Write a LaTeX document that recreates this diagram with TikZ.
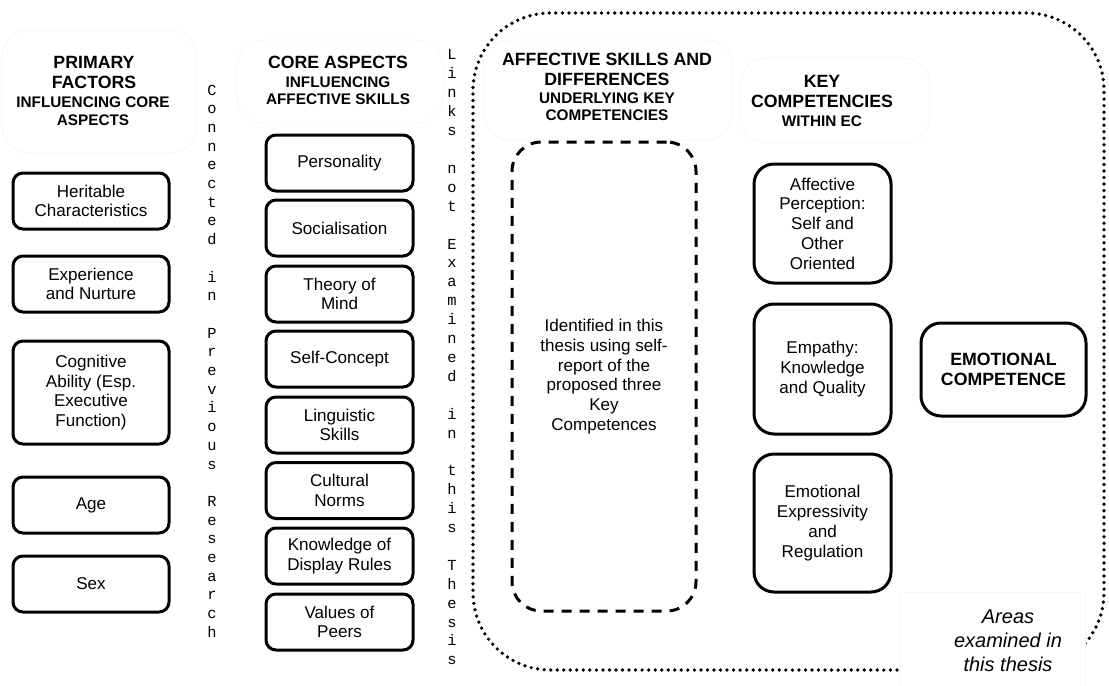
\documentclass[tikz,border=0pt]{standalone}
\usepackage{fontspec}
\setmainfont{Liberation Sans}
\newfontfamily\monofont{Liberation Mono}
\begin{document}
\begin{tikzpicture}[x=0.75pt,y=-0.75pt,
  box/.style={draw, line width=2.25pt, rounded corners=7.5pt, align=center,
    inner sep=2pt, font=\fontsize{12.8}{14.8}\selectfont},
  bigbox/.style={box, rounded corners=15pt},
  hbig/.style={font=\fontsize{13.3}{15}\selectfont\bfseries, anchor=base, inner sep=0pt},
  hsmall/.style={font=\fontsize{11.5}{13}\selectfont\bfseries, anchor=base, inner sep=0pt},
  vlet/.style={font=\monofont\fontsize{11.5}{12}\selectfont, anchor=base, inner sep=0pt},
  faint/.style={draw=black!3, line width=0.75pt, rounded corners=20pt},
  dotline/.style={line width=2.8pt, line cap=round, dash pattern=on 0pt off 4.9pt, rounded corners=58pt},
  dashbox/.style={box, dash pattern=on 7.5pt off 6pt, rounded corners=22pt}
]
\useasboundingbox (0,0) rectangle (1109,685);

% pale panels behind the column headings
\draw[faint] (2,30) rectangle (197,153);
\draw[faint] (237,40) rectangle (443,123);
\draw[faint] (483,40) rectangle (733,140);
\draw[faint] (740,58) rectangle (930,143);

% dotted outline of the areas examined
\draw[dotline] (473,400) -- (473,13) -- (1104,13) -- (1104,670) -- (473,670) -- cycle;

% caption panel in the lower right corner
\draw[draw=black!3, line width=0.75pt, fill=white] (900,592) rectangle (1085,690);
\node[font=\fontsize{15}{18}\selectfont\itshape, align=center, inner sep=0pt] (areas) at (1008,641)
  {Areas\\examined in\\this thesis};

% column headings
\node[hbig]   (h1a) at (94,69)    {PRIMARY};
\node[hbig]   (h1b) at (94,89)    {FACTORS};
\node[hsmall] (h1c) at (93,107.5) {INFLUENCING CORE};
\node[hsmall] (h1d) at (93,125.5) {ASPECTS};

\node[hbig]   (h2a) at (338,69)    {CORE ASPECTS};
\node[hsmall] (h2b) at (338,87.5)  {INFLUENCING};
\node[hsmall] (h2c) at (338,104.5) {AFFECTIVE SKILLS};

\node[hbig]   (h3a) at (607,65)    {AFFECTIVE SKILLS AND};
\node[hbig]   (h3b) at (607,85)    {DIFFERENCES};
\node[hsmall] (h3c) at (607,103.5) {UNDERLYING KEY};
\node[hsmall] (h3d) at (607,120.5) {COMPETENCIES};

\node[hbig]   (h4a) at (822,88)    {KEY};
\node[hbig]   (h4b) at (822,108)   {COMPETENCIES};
\node[hsmall] (h4c) at (822,126.5) {WITHIN EC};

% vertical captions between the columns
\foreach \ch [count=\i] in {C,o,n,n,e,c,t,e,d,{},i,n,{},P,r,e,v,i,o,u,s,{},R,e,s,e,a,r,c,h}
  \node[vlet] (conn-\i) at (212,{95+(\i-1)*18.7}) {\ch};
\foreach \ch [count=\i] in {L,i,n,k,s,{},n,o,t,{},E,x,a,m,i,n,e,d,{},i,n,{},t,h,i,s,{},T,h,e,s,i,s}
  \node[vlet] (link-\i) at (452,{60+(\i-1)*18.9}) {\ch};

% primary factors
\node[box, minimum width=117pt, minimum height=42pt]    (herit) at (91,201)   {Heritable\\Characteristics};
\node[box, minimum width=117pt, minimum height=42pt]    (exper) at (91,284)   {Experience\\and Nurture};
\node[box, minimum width=117pt, minimum height=77.25pt] (cogn)  at (91,392.5) {Cognitive\\Ability (Esp.\\Executive\\Function)};
\node[box, minimum width=117pt, minimum height=42pt]    (age)   at (91,505)   {Age};
\node[box, minimum width=117pt, minimum height=42pt]    (sex)   at (91,584)   {Sex};

% core aspects
\node[box, minimum width=110.25pt, minimum height=42pt] (pers)  at (339.5,163)   {Personality};
\node[box, minimum width=110.25pt, minimum height=42pt] (soc)   at (339.5,228)   {Socialisation};
\node[box, minimum width=110.25pt, minimum height=42pt] (tom)   at (339.5,294)   {Theory of\\Mind};
\node[box, minimum width=110.25pt, minimum height=42pt] (selfc) at (339.5,359)   {Self-Concept};
\node[box, minimum width=110.25pt, minimum height=42pt] (ling)  at (339.5,425)   {Linguistic\\Skills};
\node[box, minimum width=110.25pt, minimum height=42pt] (cult)  at (339.5,490.5) {Cultural\\Norms};
\node[box, minimum width=110.25pt, minimum height=42pt] (disp)  at (339.5,556)   {Knowledge of\\Display Rules};
\node[box, minimum width=110.25pt, minimum height=42pt] (peers) at (339.5,622)   {Values of\\Peers};

% affective skills identified by self-report
\node[dashbox, minimum width=138pt, minimum height=351.75pt] (ident) at (604,376.5)
  {Identified in this\\thesis using self-\\report of the\\proposed three\\Key\\Competences};

% key competencies
\node[bigbox, minimum width=102.75pt, minimum height=89.25pt] (perc) at (822.5,223.5)
  {Affective\\Perception:\\Self and\\Other\\Oriented};
\node[bigbox, minimum width=102.75pt, minimum height=97.5pt] (emp) at (822.5,369)
  {Empathy:\\Knowledge\\and Quality};
\node[bigbox, minimum width=102.75pt, minimum height=103.5pt] (expr) at (822.5,523)
  {Emotional\\Expressivity\\and\\Regulation};

% emotional competence
\node[bigbox, minimum width=123.75pt, minimum height=69.75pt,
  font=\fontsize{13.3}{15}\selectfont\bfseries] (ec) at (1003.5,369.5)
  {EMOTIONAL\\COMPETENCE};
\end{tikzpicture}
\end{document}
